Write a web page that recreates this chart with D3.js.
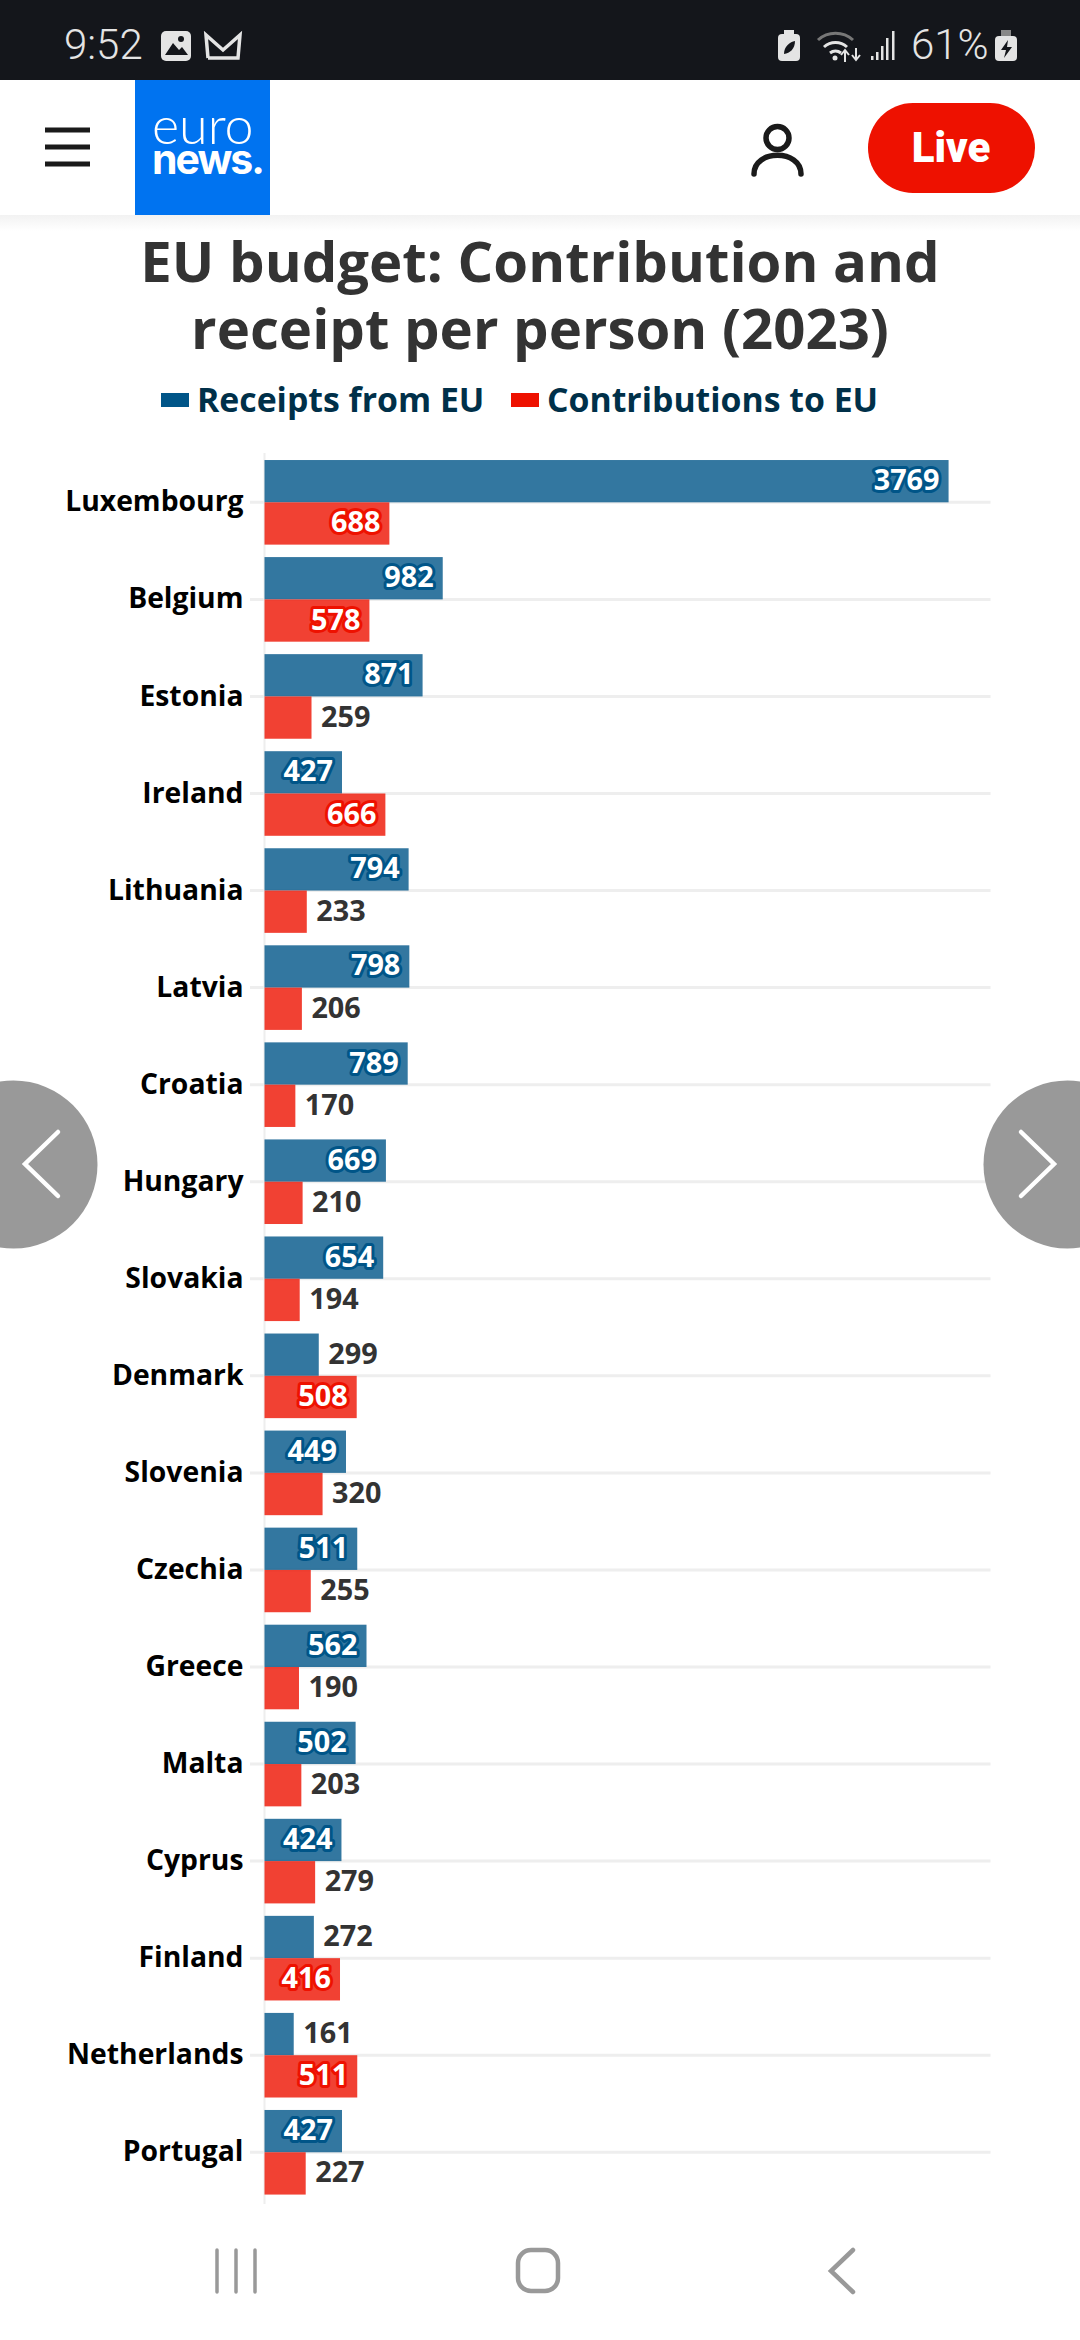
<!DOCTYPE html>
<html>
<head>
<meta charset="utf-8">
<script src="https://cdn.jsdelivr.net/npm/d3@7/dist/d3.min.js"></script>
<style>
  html, body { margin: 0; padding: 0; background: #fff; }
  svg { display: block; }
  text { font-family: "Open Sans", sans-serif; }
</style>
</head>
<body>
<div id="chart"></div>
<script>
const countries = ["Luxembourg", "Belgium", "Estonia", "Ireland", "Lithuania", "Latvia", "Croatia", "Hungary", "Slovakia",
    "Denmark", "Slovenia", "Czechia", "Greece", "Malta", "Cyprus", "Finland", "Netherlands", "Portugal"];
const receipts = [3769, 982, 871, 427, 794, 798, 789, 669, 654, 299, 449, 511, 562, 502, 424, 272, 161, 427];
const contributions = [688, 578, 259, 666, 233, 206, 170, 210, 194, 508, 320, 255, 190, 203, 279, 416, 511, 227];
const seriesNames = ["Receipts from EU", "Contributions to EU"];
const titleLines = ["EU budget: Contribution and", "receipt per person (2023)"];

const width = 1080, height = 2340;
const blue = "#005588", red = "#ee1100";
const insideFrom = 400; // labels of shorter bars sit outside the bar

const svg = d3.select("#chart").append("svg")
    .attr("width", width)
    .attr("height", height);

// ---- chart ----
const x = d3.scaleLinear().domain([0, 4000]).range([264.5, 990.5]);
const y = d3.scaleBand().domain(countries).range([453.8, 2200.8]);
const barH = 42.3;

const chart = svg.append("g");

// gridlines through the middle of each country
chart.selectAll(".grid")
    .data(countries)
    .join("line")
    .attr("class", "grid")
    .attr("x1", 250)
    .attr("x2", x.range()[1])
    .attr("y1", d => y(d) + y.bandwidth() / 2)
    .attr("y2", d => y(d) + y.bandwidth() / 2)
    .attr("stroke", "#eeeeee")
    .attr("stroke-width", 3);

const yAxis = d3.axisLeft(y).tickSize(0).tickPadding(21);
const yG = chart.append("g")
    .attr("transform", "translate(" + x(0) + ",0)")
    .call(yAxis);
yG.select(".domain").remove();
yG.selectAll("text")
    .attr("dy", "0.32em")
    .style("font-family", '"Open Sans", sans-serif')
    .style("font-size", "28.3px")
    .style("font-weight", "700")
    .attr("fill", "#000");

chart.append("line")
    .attr("x1", x(0)).attr("x2", x(0))
    .attr("y1", 453).attr("y2", 2204)
    .attr("stroke", "#eeeeee")
    .attr("stroke-width", 2);

function addSeries(name, values, color, offset) {
    const rows = countries.map((c, i) => ({ country: c, value: values[i] }));
    const top = d => y(d.country) + y.bandwidth() / 2 + offset;

    chart.selectAll(".bar-" + name)
        .data(rows)
        .join("rect")
        .attr("class", "bar-" + name)
        .attr("x", x(0))
        .attr("y", top)
        .attr("width", d => x(d.value) - x(0))
        .attr("height", barH)
        .attr("fill", color)
        .attr("fill-opacity", 0.8);

    chart.selectAll(".label-" + name)
        .data(rows)
        .join("text")
        .attr("class", "label-" + name)
        .attr("x", d => d.value >= insideFrom ? x(d.value) - 9 : x(d.value) + 9.5)
        .attr("y", d => top(d) + barH / 2 + 9)
        .attr("text-anchor", d => d.value >= insideFrom ? "end" : "start")
        .attr("fill", d => d.value >= insideFrom ? "#fff" : "#333")
        .attr("stroke", d => d.value >= insideFrom ? color : "none")
        .attr("stroke-width", 6)
        .attr("stroke-linejoin", "round")
        .style("paint-order", "stroke")
        .style("font-size", "28.8px")
        .style("font-weight", "700")
        .text(d => d.value);
}
addSeries("receipts", receipts, blue, -barH);
addSeries("contributions", contributions, red, 0);

// ---- title and legend ----
svg.selectAll(".title")
    .data(titleLines)
    .join("text")
    .attr("class", "title")
    .attr("x", 540)
    .attr("y", (d, i) => 282 + i * 67)
    .attr("text-anchor", "middle")
    .attr("fill", "#333")
    .style("font-size", "56.3px")
    .style("font-weight", "700")
    .text(d => d);

const legendX = [161, 511];
const legend = svg.selectAll(".legend")
    .data(seriesNames)
    .join("g")
    .attr("class", "legend")
    .attr("transform", (d, i) => "translate(" + legendX[i] + ",0)");
legend.append("rect")
    .attr("y", 393).attr("width", 28).attr("height", 14)
    .attr("fill", (d, i) => [blue, red][i]);
legend.append("text")
    .attr("x", 36).attr("y", 412)
    .attr("fill", "#003049")
    .style("font-size", "33.8px")
    .style("font-weight", "700")
    .text(d => d);

// ---- carousel buttons ----
[[13.5, 58, 25], [1067.5, 1021, 1054]].forEach(b => {
    svg.append("circle").attr("cx", b[0]).attr("cy", 1164.5).attr("r", 84).attr("fill", "#999");
    svg.append("path")
        .attr("d", "M" + b[1] + ",1132L" + b[2] + ",1164L" + b[1] + ",1196")
        .attr("fill", "none").attr("stroke", "#fff").attr("stroke-width", 4.5).attr("stroke-linecap", "round");
});

// ---- phone status bar and site header ----
const defs = svg.append("defs");
const shade = defs.append("linearGradient").attr("id", "shade").attr("x2", 0).attr("y2", 1);
shade.append("stop").attr("offset", 0).attr("stop-color", "#f2f2f2");
shade.append("stop").attr("offset", 1).attr("stop-color", "#fff");
svg.append("rect").attr("y", 215).attr("width", width).attr("height", 16).attr("fill", "url(#shade)");

svg.append("rect").attr("width", width).attr("height", 80).attr("fill", "#14161b");
const status = svg.append("g").attr("fill", "#e4e4e4");
status.append("text").attr("x", 64).attr("y", 59)
    .style("font-family", "Roboto").style("font-weight", "300").style("font-size", "42px").text("9:52");
status.append("text").attr("x", 911).attr("y", 59)
    .style("font-family", "Roboto").style("font-weight", "300").style("font-size", "42px").text("61%");

// gallery icon
status.append("rect").attr("x", 161).attr("y", 31).attr("width", 30).attr("height", 30).attr("rx", 5);
status.append("path").attr("d", "M165,55L173,43L179,50L182,47L188,55Z").attr("fill", "#14161b");
status.append("circle").attr("cx", 181).attr("cy", 39).attr("r", 3).attr("fill", "#14161b");
// mail icon
status.append("path").attr("d", "M208,58L206,35L223,50L240,35L238,58H208")
    .attr("fill", "none").attr("stroke", "#e4e4e4").attr("stroke-width", 3.5);
// left battery
status.append("rect").attr("x", 778).attr("y", 34).attr("width", 22).attr("height", 27).attr("rx", 4);
status.append("rect").attr("x", 784).attr("y", 30).attr("width", 10).attr("height", 5);
status.append("path").attr("d", "M784,54C784,46 790,42 795,41C795,49 790,53 784,54Z").attr("fill", "#14161b");
// wifi
const wifi = status.append("g").attr("fill", "none").attr("stroke", "#e4e4e4").attr("stroke-width", 3);
wifi.append("path").attr("d", "M818,40A26,26 0 0 1 853,40").attr("stroke", "#777");
wifi.append("path").attr("d", "M824,47A17,17 0 0 1 847,47");
wifi.append("path").attr("d", "M830,53A9,9 0 0 1 841,53");
wifi.append("path").attr("d", "M845,62V50M841,55L845,50L849,55M856,48V60M852,55L856,60L860,55").attr("stroke-width", 2);
status.append("circle").attr("cx", 835).attr("cy", 58).attr("r", 2.5);
// signal
[[871, 56], [876, 52], [881, 46], [886, 38], [892, 31]].forEach(s => {
    status.append("rect").attr("x", s[0]).attr("y", s[1]).attr("width", 2.5).attr("height", 60 - s[1]);
});
// right battery
status.append("rect").attr("x", 995).attr("y", 36).attr("width", 22).attr("height", 25).attr("rx", 4);
status.append("rect").attr("x", 1001).attr("y", 30).attr("width", 10).attr("height", 6).attr("fill", "#888");
status.append("path").attr("d", "M1008,40L1001,50H1006L1004,58L1012,47H1007Z").attr("fill", "#14161b");

// site header
[130, 147, 164].forEach(v => {
    svg.append("rect").attr("x", 45).attr("y", v - 2.5).attr("width", 45).attr("height", 5).attr("fill", "#1a1a1a");
});
svg.append("rect").attr("x", 135).attr("y", 80).attr("width", 135).attr("height", 135).attr("fill", "#0073f0");
svg.append("text").attr("x", 152).attr("y", 144).attr("fill", "#fff")
    .style("font-family", "Lato").style("font-weight", "300").style("font-size", "52px").text("euro");
svg.append("text").attr("x", 152).attr("y", 174).attr("fill", "#fff")
    .style("font-family", "Inter").style("font-weight", "700").style("font-size", "41px")
    .style("letter-spacing", "-2px").text("news.");

const person = svg.append("g").attr("fill", "none").attr("stroke", "#1a1a1a").attr("stroke-width", 5.5);
person.append("circle").attr("cx", 777.5).attr("cy", 138).attr("r", 11.5);
person.append("path").attr("d", "M754,174C754,149 801,149 801,174").attr("stroke-linecap", "round");

svg.append("rect").attr("x", 868).attr("y", 103).attr("width", 167).attr("height", 90).attr("rx", 45).attr("fill", "#ee1100");
svg.append("text").attr("x", 951).attr("y", 162).attr("text-anchor", "middle").attr("fill", "#fff")
    .style("font-family", "Roboto").style("font-weight", "900").style("font-size", "42px").text("Live");

// phone navigation bar
const nav = svg.append("g").attr("fill", "none").attr("stroke", "#999").attr("stroke-linecap", "round");
[217, 236, 255].forEach(v => {
    nav.append("line").attr("x1", v).attr("x2", v).attr("y1", 2250).attr("y2", 2292).attr("stroke-width", 3.5);
});
nav.append("rect").attr("x", 518).attr("y", 2250).attr("width", 40).attr("height", 41).attr("rx", 13).attr("stroke-width", 4.5);
nav.append("path").attr("d", "M853,2250L831,2271L853,2292").attr("stroke-width", 4.5);
</script>
</body>
</html>
